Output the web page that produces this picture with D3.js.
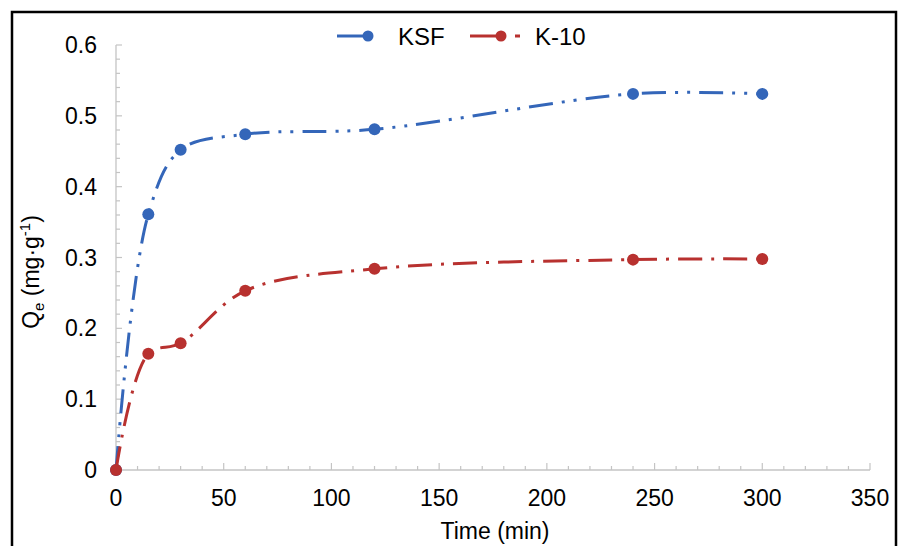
<!DOCTYPE html>
<html lang="en">
<head>
<meta charset="utf-8">
<script src="https://d3js.org/d3.v7.min.js"></script>
<style>
  body { margin: 0; background: #fff; }
  text { font-family: "Liberation Sans", Arial, sans-serif; }
</style>
</head>
<body>
<div id="chart"></div>
<script>
// contact time (min) and uptake Qe (mg/g) for the two clays
var times = [0, 15, 30, 60, 120, 240, 300];
var ksf = [0, 0.361, 0.452, 0.474, 0.481, 0.531, 0.531];
var k10 = [0, 0.164, 0.179, 0.253, 0.284, 0.297, 0.298];
var seriesNames = ["KSF", "K-10"];
var xTicks = [0, 50, 100, 150, 200, 250, 300, 350];
var yTicks = [0, 0.1, 0.2, 0.3, 0.4, 0.5, 0.6];

var width = 899, height = 546;
var margin = {top: 45, right: 29, bottom: 76, left: 116};

var svg = d3.select("#chart").append("svg")
    .attr("width", width)
    .attr("height", height);

// outer frame
svg.append("rect")
    .attr("x", 12).attr("y", 12)
    .attr("width", 884).attr("height", 560)
    .attr("fill", "none")
    .attr("stroke", "#000")
    .attr("stroke-width", 2.5);

var x = d3.scaleLinear()
    .domain([0, 350])
    .range([margin.left, width - margin.right]);

var y = d3.scaleLinear()
    .domain([0, 0.6])
    .range([height - margin.bottom, margin.top]);

var axisColor = "#c4c4c4";

// x axis: minor ticks every 10, major every 50, pointing inward
var gx = svg.append("g");
gx.append("line")
    .attr("x1", x(0)).attr("x2", x(350))
    .attr("y1", y(0)).attr("y2", y(0))
    .attr("stroke", axisColor).attr("stroke-width", 1.3);
gx.selectAll(".minor")
    .data(d3.range(0, 351, 10))
    .join("line")
    .attr("x1", d => x(d)).attr("x2", d => x(d))
    .attr("y1", y(0))
    .attr("y2", d => y(0) - (d % 50 === 0 ? 7 : 4))
    .attr("stroke", axisColor).attr("stroke-width", 1.2);
gx.selectAll("text")
    .data(xTicks)
    .join("text")
    .attr("x", d => x(d))
    .attr("y", y(0) + 36)
    .attr("text-anchor", "middle")
    .attr("font-size", 23)
    .text(d => d);

// y axis: minor ticks every 0.02
var gy = svg.append("g");
gy.append("line")
    .attr("x1", x(0)).attr("x2", x(0))
    .attr("y1", y(0)).attr("y2", y(0.6))
    .attr("stroke", axisColor).attr("stroke-width", 1.3);
gy.selectAll(".minor")
    .data(d3.range(0, 31).map(i => i * 0.02))
    .join("line")
    .attr("x1", x(0))
    .attr("x2", (d, i) => x(0) + (i % 5 === 0 ? 6 : 4))
    .attr("y1", d => y(d)).attr("y2", d => y(d))
    .attr("stroke", axisColor).attr("stroke-width", 1.2);
gy.selectAll("text")
    .data(yTicks)
    .join("text")
    .attr("x", x(0) - 19)
    .attr("y", d => y(d) + 8)
    .attr("text-anchor", "end")
    .attr("font-size", 23)
    .text(d => d === 0 ? "0" : d3.format(".1f")(d));

// axis titles
svg.append("text")
    .attr("x", 495)
    .attr("y", 539)
    .attr("text-anchor", "middle")
    .attr("font-size", 23)
    .text("Time (min)");

var yt = svg.append("text")
    .attr("transform", "translate(39,272) rotate(-90)")
    .attr("text-anchor", "middle")
    .attr("font-size", 23);
yt.append("tspan").text("Q");
yt.append("tspan").attr("font-size", 15).attr("dy", 5).text("e");
yt.append("tspan").attr("dy", -5).text(" (mg\u00b7g");
yt.append("tspan").attr("font-size", 15).attr("dy", -9).text("-1");
yt.append("tspan").attr("dy", 9).text(")");

// series
var series = [
  {name: seriesNames[0], values: ksf, color: "#3466b9", dash: "24,9,3,9,3,9"},
  {name: seriesNames[1], values: k10, color: "#b8312f", dash: "24,9,3,9"}
];

var line = d3.line()
    .x((d, i) => x(times[i]))
    .y(d => y(d))
    .curve(d3.curveCatmullRom.alpha(0.5));

var g = svg.append("g");
series.forEach(function(s) {
  g.append("path")
      .attr("d", line(s.values))
      .attr("fill", "none")
      .attr("stroke", s.color)
      .attr("stroke-width", 3)
      .attr("stroke-dasharray", s.dash);
  g.selectAll(null)
      .data(s.values)
      .join("circle")
      .attr("cx", (d, i) => x(times[i]))
      .attr("cy", d => y(d))
      .attr("r", 6)
      .attr("fill", s.color);
});

// legend
var legendPos = [337, 470];
series.forEach(function(s, i) {
  var lg = svg.append("g").attr("transform", `translate(${legendPos[i]},36)`);
  lg.append("line")
      .attr("x1", 0).attr("x2", 30)
      .attr("y1", 0).attr("y2", 0)
      .attr("stroke", s.color).attr("stroke-width", 3);
  lg.append("circle").attr("cx", 31).attr("cy", 0).attr("r", 5.5).attr("fill", s.color);
  lg.append("line")
      .attr("x1", 37).attr("x2", i === 0 ? 40 : 50)
      .attr("y1", 0).attr("y2", 0)
      .attr("stroke", s.color).attr("stroke-width", 3)
      .attr("stroke-dasharray", i === 0 ? "0,10,3" : "0,8,7");
  lg.append("text")
      .attr("x", i === 0 ? 61 : 65)
      .attr("y", 9)
      .attr("font-size", 24)
      .text(s.name);
});
</script>
</body>
</html>
